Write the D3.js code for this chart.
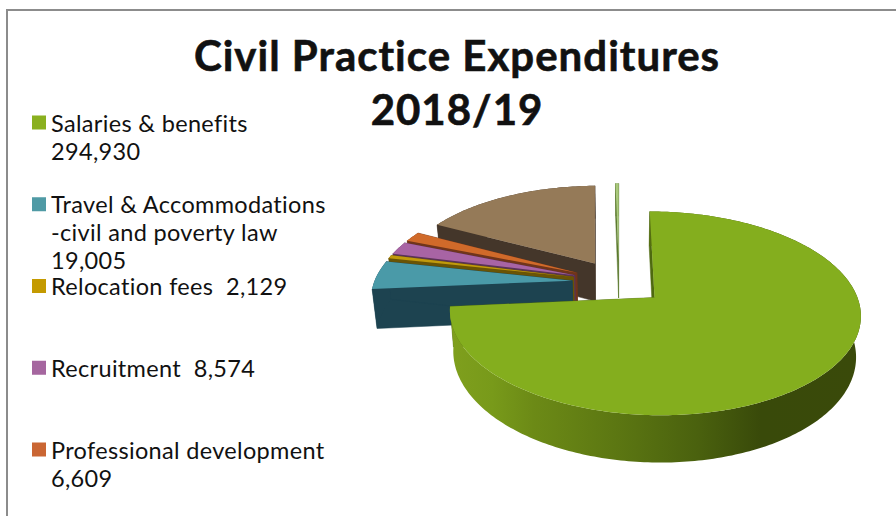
<!DOCTYPE html>
<html><head><meta charset="utf-8">
<script src="https://cdnjs.cloudflare.com/ajax/libs/d3/7.8.5/d3.min.js"></script>
<style>html,body{margin:0;padding:0;background:#fff}svg{display:block}
text{font-family:Lato,"Open Sans",sans-serif;fill:#111}</style></head>
<body><svg id="c" width="896" height="516"></svg>
<script>
const titleLines = ["Civil Practice Expenditures", "2018/19"];
const categories = ["Salaries & benefits", "Travel & Accommodations -civil and poverty law", "Relocation fees", "Recruitment", "Professional development", "Other (legend cut off)", "Minor item (legend cut off)"];
const values = [294930, 19005, 2129, 8574, 6609, 68300, 1200];
const legendLines = [["Salaries & benefits", "294,930"], ["Travel & Accommodations", "-civil and poverty law", "19,005"], ["Relocation fees  2,129"], ["Recruitment  8,574"], ["Professional development", "6,609"]];
const topColors = ["#84ae1e", "#4a9aa8", "#c19a0c", "#a864a4", "#d06a2a", "#957a58", "#a9c97c"];
const wallColors = ["#4f6a10", "#1d4350", "#6a5405", "#5a3358", "#70351a", "#44362a", "#5d7a30"];
const legendColors = ["#8ab01f", "#4f9aa5", "#c49a00", "#a5669f", "#ca6633"];

const svg = d3.select("#c");
const W = 896, H = 516;
// frame
svg.append("path").attr("d", `M7 ${H}V10H${W}`).attr("fill", "none").attr("stroke", "#8c8c8c").attr("stroke-width", 2);

// title
const titleY = d3.scaleLinear().domain([0, 1]).range([71, 125]);
svg.selectAll("text.t").data(titleLines).join("text").attr("class", "t")
  .attr("x", 457).attr("y", (d, i) => titleY(i)).attr("text-anchor", "middle")
  .attr("font-size", 42).attr("font-weight", 700).attr("letter-spacing", 1)
  .style("stroke", "#111").style("stroke-width", 0.6).text(d => d);

// legend
const legendY = d3.scaleLinear().domain([0, 4]).range([131.5, 458.5]);
const leg = svg.selectAll("g.l").data(legendLines).join("g").attr("class", "l")
  .attr("transform", (d, i) => `translate(32,${legendY(i)})`);
leg.append("rect").attr("y", -16).attr("width", 14).attr("height", 14).attr("fill", (d, i) => legendColors[i]);
leg.selectAll("text").data(d => d).join("text").attr("x", 19).attr("y", (d, i) => i * 28)
  .attr("font-size", 23.5).attr("letter-spacing", 0.33).style("white-space", "pre").text(d => d);

// 3D pie
const R = 198, explode = 47, cx = 619, cy = 282, K = 0.478, P = 0.000765, depth = 39, shrink = 0.98;
const pie = d3.pie().sort(null).value(d => d);
const arcs = pie(values);
const project = (X, Y, low) => {
  const s = 1 / (1 + P * Y);
  return low ? [cx + X * s * shrink, cy - K * Y * s + depth * s] : [cx + X * s, cy - K * Y * s];
};
const line = d3.line();
const defs = svg.append("defs");
const grad = defs.append("linearGradient").attr("id", "gw").attr("gradientUnits", "userSpaceOnUse")
  .attr("x1", 451).attr("x2", 863).attr("y1", 0).attr("y2", 0);
[[0, "#7f9f1d"], [0.1, "#789a1a"], [0.2, "#6c8a16"], [0.4, "#5c7712"], [0.6, "#4a610e"], [0.75, "#394a0a"], [1, "#3a4a0a"]]
  .forEach(([o, c]) => grad.append("stop").attr("offset", o).attr("stop-color", c));

const pieG = svg.append("g");
// painter's order: back slices first
const order = d3.range(arcs.length).reverse();
order.forEach(i => {
  const a = arcs[i], mid = (a.startAngle + a.endAngle) / 2;
  const ox = explode * Math.sin(mid), oy = explode * Math.cos(mid);
  const n = Math.max(4, Math.ceil((a.endAngle - a.startAngle) * 60));
  const angles = d3.range(n + 1).map(j => a.startAngle + (a.endAngle - a.startAngle) * j / n);
  const rim = angles.map(t => [ox + R * Math.sin(t), oy + R * Math.cos(t)]);
  const apex = [ox, oy];
  const fill = i === 0 ? "url(#gw)" : wallColors[i];
  const g = pieG.append("g");
  const face = pts => g.append("path").attr("d", line(pts) + "Z").attr("fill", i === 0 ? wallColors[0] : fill).attr("stroke", i === 0 ? wallColors[0] : fill).attr("stroke-width", 0.5);
  const quad = (p, q) => [project(...p, false), project(...q, false), project(...q, true), project(...p, true)];
  face(quad(apex, rim[0]));
  face(quad(apex, rim[n]));
  const top = rim.map(p => project(...p, false));
  const low = rim.map(p => project(...p, true)).reverse();
  g.append("path").attr("d", line(top.concat(low)) + "Z").attr("fill", fill);
  g.append("path").attr("d", line([project(...apex, false), ...top]) + "Z").attr("fill", topColors[i]);
});
</script></body></html>
